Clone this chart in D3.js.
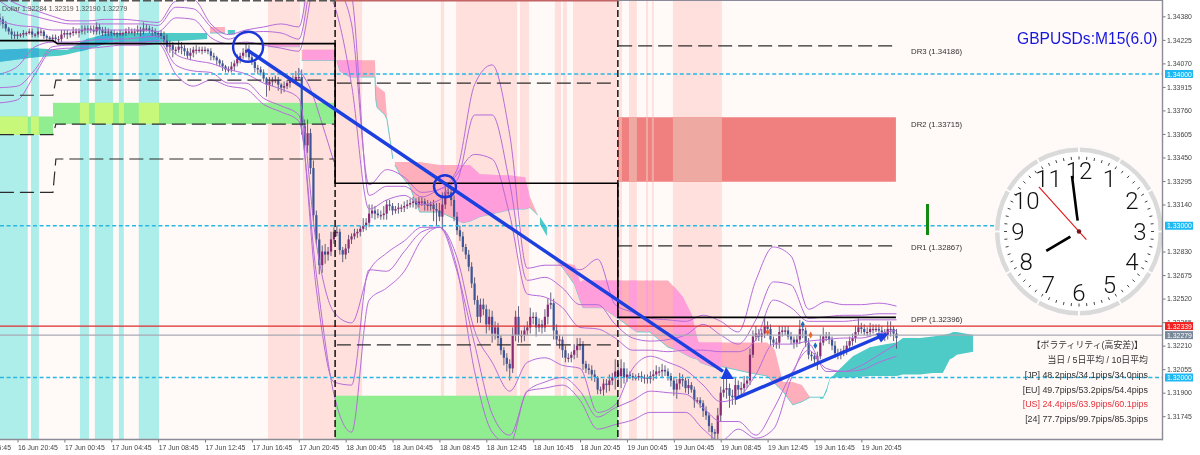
<!DOCTYPE html>
<html><head><meta charset="utf-8">
<script src="https://cdn.jsdelivr.net/npm/d3@7/dist/d3.min.js"></script>
<style>html,body{margin:0;padding:0;background:#fff;overflow:hidden}svg{display:block;filter:blur(0.35px)}text{font-family:"Liberation Sans","Noto Sans CJK JP",sans-serif}</style>
</head><body><svg id="c" width="1200" height="455"></svg>
<script>
// prices are in units of 0.0001 (13400 = 1.34000); bars are 15-minute bar numbers
const closes=[13436,13433,13430,13428,13426,13425,13426,13426,13427,13427,
13428,13426,13426,13428,13428,13425,13424,13423,13424,13423,
13423,13426,13427,13426,13427,13428,13428,13428,13429,13430,
13430,13429,13428,13431,13429,13427,13428,13428,13427,13427,
13426,13427,13427,13428,13428,13428,13428,13429,13428,13430,
13430,13429,13428,13427,13427,13425,13422,13418,13419,13416,
13416,13418,13417,13415,13412,13414,13416,13416,13416,13416,
13416,13415,13412,13411,13409,13407,13405,13403,13403,13405,
13407,13410,13412,13414,13416,13411,13408,13404,13403,13401,
13397,13393,13395,13396,13396,13393,13391,13392,13394,13396,
13396,13398,13398,13366,13353,13361,13338,13307,13291,13274,
13283,13281,13283,13291,13296,13296,13284,13281,13285,13291,
13293,13295,13296,13298,13300,13302,13308,13310,13308,13307,
13307,13308,13314,13313,13310,13311,13312,13312,13313,13314,
13315,13316,13314,13316,13316,13314,13313,13314,13311,13310,
13306,13314,13322,13322,13317,13306,13297,13293,13286,13281,
13273,13262,13251,13240,13248,13245,13235,13240,13229,13233,
13226,13218,13213,13209,13206,13228,13240,13228,13228,13231,
13233,13240,13240,13233,13235,13233,13240,13248,13249,13231,
13225,13225,13218,13213,13213,13215,13218,13221,13222,13209,
13206,13205,13202,13200,13192,13192,13196,13195,13198,13200,
13204,13201,13206,13200,13202,13201,13200,13200,13201,13200,
13200,13199,13201,13202,13204,13204,13205,13204,13201,13198,
13192,13196,13199,13198,13193,13195,13192,13185,13185,13183,
13178,13175,13168,13164,13163,13175,13190,13192,13193,13188,
13187,13195,13192,13193,13196,13198,13215,13227,13229,13227,
13229,13234,13232,13225,13223,13223,13230,13231,13231,13227,
13225,13223,13225,13232,13231,13223,13215,13214,13212,13214,
13223,13227,13227,13225,13221,13216,13215,13217,13218,13221,
13224,13226,13230,13233,13232,13230,13230,13232,13232,13232,
13231,13230,13228,13232,13232,13229,13226];
const wickUp=[3,2,2,1,2,2,2,1,2,1,2,2,1,3,2,1,1,1,2,2,2,3,2,2,1,3,2,2,3,2,2,2,3,3,2,2,3,2,1,2,1,2,1,2,3,2,2,3,2,4,3,2,2,2,1,2,3,4,3,2,2,4,3,2,2,3,2,3,2,2,2,1,2,2,1,1,2,1,2,3,2,3,2,3,4,3,2,2,2,2,2,1,3,2,3,2,1,3,2,2,3,4,6,5,4,9,3,5,3,4,4,5,3,5,3,4,2,2,3,3,2,3,2,2,5,3,6,4,3,3,3,5,3,3,2,2,3,2,3,3,3,3,2,3,3,2,3,2,3,4,5,8,6,6,4,3,3,3,3,2,3,3,4,3,4,4,3,5,4,4,3,2,2,3,3,5,4,7,3,3,4,6,3,3,4,3,5,4,7,3,4,3,2,3,3,2,4,5,4,2,2,3,3,3,1,2,3,3,4,3,8,5,6,4,4,2,2,2,2,3,2,2,3,3,4,3,4,3,2,2,2,3,4,3,2,4,2,2,2,2,2,3,2,2,2,5,4,9,6,3,4,5,3,4,5,3,4,4,5,3,3,6,3,3,2,3,4,3,3,3,3,2,3,6,4,2,3,2,2,3,5,6,3,3,2,3,3,2,3,3,3,3,4,6,3,3,3,4,3,3,3,3,2,5,5,2,3];
const wickDown=[4,3,2,2,3,2,2,2,2,2,1,2,2,2,3,2,2,1,2,2,2,2,2,3,2,2,2,4,2,3,3,2,2,2,3,2,2,3,2,2,2,1,2,2,2,2,3,2,3,2,2,2,3,2,3,2,3,3,4,5,3,2,4,3,2,3,3,3,2,3,2,2,3,2,3,2,3,2,2,2,3,2,3,2,3,2,2,3,3,2,2,8,4,3,2,4,4,3,2,3,2,2,2,6,5,5,4,4,3,6,5,6,4,3,3,3,3,5,3,3,3,2,3,3,2,3,3,3,4,2,3,3,4,3,3,2,3,3,3,2,2,3,3,2,3,4,3,3,8,10,3,9,3,2,4,3,3,3,3,3,3,3,3,4,4,4,6,4,6,4,4,3,5,5,8,3,4,5,5,4,3,4,5,6,3,4,3,5,3,6,4,6,5,3,3,3,3,5,3,4,3,3,4,3,3,3,4,5,4,3,8,7,8,4,3,2,2,2,2,3,4,3,3,3,3,3,4,3,3,4,4,6,4,4,3,4,2,5,2,3,4,3,4,6,6,8,4,3,6,8,5,5,5,4,3,3,3,2,3,3,4,3,4,4,3,4,4,3,3,2,3,4,3,3,5,3,3,3,4,7,2,2,3,3,3,3,3,3,3,3,2,3,3,2,3,2,3,3,3,2,3,3,4,3,5,5,7];

const bandBars=[0,6,12,18,24,30,36,42,48,54,60,66,72,78,84,90,96,102,108,114,120,126,132,138,144,150,156,162,168,174,180,186,192,198,204,210,216,222,228,234,240,246,252,258,264,270,276,282,288,294,300,306];
const upper3=[13452,13446,13442,13438,13435,13435,13436,13436,13435,13434,13448,13449,13433,13426,13429,13431,13433,13431,13489,13462,13433,13327,13337,13332,13322,13324,13337,13393,13406,13360,13272,13274,13274,13271,13278,13248,13243,13239,13238,13237,13241,13237,13230,13264,13286,13280,13245,13250,13248,13248,13249,13247];
const upper2=[13448,13441,13438,13435,13433,13433,13433,13433,13433,13432,13444,13443,13431,13423,13427,13428,13427,13423,13475,13475,13452,13320,13326,13326,13319,13324,13330,13373,13373,13328,13264,13266,13259,13248,13248,13235,13226,13224,13225,13228,13235,13228,13222,13238,13263,13261,13239,13240,13241,13241,13242,13242];
const upper1=[13435,13432,13431,13429,13429,13429,13429,13429,13429,13428,13437,13436,13424,13420,13421,13419,13417,13415,13462,13446,13393,13311,13317,13320,13314,13317,13334,13347,13344,13307,13255,13253,13246,13233,13232,13226,13218,13218,13217,13218,13218,13217,13217,13225,13251,13246,13237,13237,13237,13238,13238,13238];
const lower1=[13400,13405,13418,13421,13421,13422,13423,13423,13424,13425,13413,13409,13407,13403,13400,13394,13390,13384,13288,13243,13236,13270,13282,13290,13299,13299,13279,13231,13210,13191,13210,13213,13208,13206,13177,13182,13206,13214,13210,13205,13195,13184,13187,13202,13222,13222,13224,13225,13226,13226,13229,13231];
const lower2=[13391,13392,13403,13418,13419,13419,13420,13421,13421,13422,13406,13402,13401,13394,13394,13384,13379,13373,13258,13197,13195,13271,13270,13283,13296,13299,13270,13222,13176,13162,13191,13197,13200,13191,13174,13180,13185,13191,13190,13189,13180,13171,13171,13162,13179,13202,13218,13206,13204,13208,13215,13222];
const lower3=[13381,13383,13400,13416,13417,13417,13418,13419,13419,13420,13400,13392,13396,13392,13390,13380,13375,13369,13268,13189,13164,13251,13259,13270,13291,13299,13272,13204,13164,13156,13191,13193,13195,13185,13166,13169,13172,13177,13177,13177,13166,13158,13166,13160,13166,13199,13222,13204,13204,13205,13210,13214];
const extraBandBars=[102,106,110,114];
const extraBand=[13403,13390,13367,13342];

const cyanSessions=[[0,9.5],[10.6,13.3],[27.3,30.4],[32.4,38.6],[40.6,42.3],[47.4,54.3]];
const pinkSessions=[[91.5,102.4],[103.4,123.6],[150.5,151.6],[155.7,176.5],[177.5,180.6],[189.4,191.5],[192.2,193.5],[195.6,210.6],[211.3,212.3],[214.7,217.4],[220.5,221.2],[222.5,223.2],[229.7,246.4]];
const greenZones=[[0,18.1,13372,13360],[18.1,114.4,13381,13367],[114.4,211,13188,13159]];
const redZones=[[210.9,305.8,13371.5,13329]];

const tealBars1=[0,12,20.5,23.2,29.7,37.5,54.6,70.7], tealTop1=[13416,13417,13416,13416,13423,13427,13427,13427], tealBot1=[13408,13411,13412,13413,13416,13421,13421,13423];
const tealBars2=[77.8,80.2], tealTop2=[13429,13429], tealBot2=[13426,13426];
const tealBars3=[184.3,186.7], tealTop3=[13306,13299], tealBot3=[13301,13293];
const tealBars4=[279.9,280.9,282.2,283.3,284.3,285.7,291.1,296.9,302.7,306.1,308.2,314,318.4,321.8,324.2,325.3,326.6,332.1];
const tealTop4=[13187,13187,13193,13200,13201,13204,13214,13220,13222,13223,13226,13226,13227,13228,13229,13230,13230,13228];
const tealBot4=[13186,13186,13191,13199,13200,13200,13200,13201,13201,13201,13202,13202,13203,13203,13212,13213,13215,13217];
const pinkBars1=[71.7,76.8], pinkTop1=[13431,13431], pinkBot1=[13427,13427];
const pinkBars2=[91.5,102.4], pinkTop2=[13420,13420], pinkBot2=[13418,13418];
const pinkBars3=[103,114.7], pinkTop3=[13416,13416], pinkBot3=[13409,13409];
const pinkBars4=[115,116,119.5,128,128.3,128.7,131.4,132.1,134.1];
const pinkTop4=[13409,13409,13409,13409,13393,13392,13388,13372,13346];
const pinkBot4=[13409,13402,13398,13398,13383,13378,13373,13370,13344];
const pinkBars5=[134.8,136.5,139.9,141.6,143.3,150.2,158,160.4,163.8,175.1,179.2,180.9,183.6];
const pinkTop5=[13342,13342,13342,13342,13342,13340,13340,13340,13334,13333,13332,13319,13307];
const pinkBot5=[13340,13334,13326,13317,13309,13309,13302,13303,13306,13311,13311,13312,13307];
const pinkBars6=[189.4,192.2,196.2,196.9,198,199,205.8,211.6,217.4,221.8,228,231.4,233.1,236.2,238.2,238.9,243.3,246.8,256,261.8,263.8,264.5,267.2,270.6,273.7,276.5,280.9];
const pinkTop6=[13279,13276,13274,13270,13263,13264,13264,13264,13264,13264,13264,13257,13253,13241,13224,13223,13223,13223,13223,13223,13220,13218,13197,13197,13195,13187,13187];
const pinkBot6=[13278,13272,13261,13257,13251,13246,13246,13238,13230,13230,13220,13218,13216,13213,13212,13210,13207,13207,13203,13201,13197,13196,13191,13182,13184,13187,13187];

const pivotBars=[0,18.1,19.6,114.4,114.4,210.9,210.9,305.8];
const pivotLine=[13422,13422,13420,13420,13328,13328,13239.6,13239.6];
const dashBars=[0,18.1,19.1,114];
const dashR=[13386,13386,13396,13396], dashM=[13360,13360,13367,13367], dashS=[13322,13322,13344,13344];
const day3Bars=[115,210.4], day3R=13394, day3S=13221.5;
const day4Bars=[211,305.8], dr3=13418.6, dr1=13286.7;
const sessionBreaks=[114.4,210.9];
const roundLevels=[1.34,1.33,1.32];
const bidPrice=1.32339, lastPrice=1.32279;
const priceTicks=[1.3438,1.34225,1.3407,1.33915,1.3376,1.33605,1.3345,1.33295,1.3314,1.3283,1.32675,1.3252,1.32365,1.3221,1.32055,1.319,1.31745];
const timeTickBars=[-10,6,22,38,54,70,86,102,118,134,150,166,182,198,214,230,246,262,278,294];
const timeLabels=["16 Jun 16:45","16 Jun 20:45","17 Jun 00:45","17 Jun 04:45","17 Jun 08:45","17 Jun 12:45","17 Jun 16:45","17 Jun 20:45","18 Jun 00:45","18 Jun 04:45","18 Jun 08:45","18 Jun 12:45","18 Jun 16:45","18 Jun 20:45","19 Jun 00:45","19 Jun 04:45","19 Jun 08:45","19 Jun 12:45","19 Jun 16:45","19 Jun 20:45"];
const arrow1Bars=[84.3,246.8], arrow1Prices=[13416,13204];
const arrowHead1=[[246.1,13199],[250.5,13199],[247.8,13207]];
const arrow2Bars=[250.9,300.4], arrow2Prices=[13186,13227];
const arrowHead2=[[299,13229],[303.4,13229],[300.7,13223]];
const circles=[[84.7,13418,15],[151.9,13326,11]];
const diamondsOrange=[[262,13230],[276.7,13228]];
const diamondsBlue=[[274,13235],[278.3,13221]];
const drLabels=[["DR3 (1.34186)",13413],["DR2 (1.33715)",13365],["DR1 (1.32867)",13284],["DPP (1.32396)",13236.3]];
const volRows=[["【ボラティリティ(高安差)】","#333"],["当日 / 5日平均 / 10日平均","#333"],["[JP] 48.2pips/34.1pips/34.0pips","#333"],["[EU] 49.7pips/53.2pips/54.4pips","#333"],["[US] 24.4pips/63.9pips/60.1pips","#e8323c"],["[24] 77.7pips/99.7pips/85.3pips","#333"]];
const clockHour=7, clockMinute=58.8, clockSecond=53;

const W=1200,H=455,plotR=1162.5,plotB=439.5;
const svg=d3.select("#c");
const x=d3.scaleLinear().domain([0,306]).range([-0.08,896.5]);
const yP=d3.scaleLinear().domain([1.34,1.32]).range([74,377.5]);
const y=p=>yP(p/1e4);
const defs=svg.append("defs");
defs.append("clipPath").attr("id","plot").append("rect").attr("width",plotR).attr("height",plotB);
const rectsClip=(id,list)=>{const c=defs.append("clipPath").attr("id",id);c.selectAll("rect").data(list).join("rect").attr("x",d=>x(d[0])).attr("width",d=>x(d[1])-x(d[0])).attr("y",0).attr("height",plotB);};
rectsClip("cyanClip",cyanSessions);rectsClip("pinkClip",pinkSessions);

svg.append("rect").attr("width",W).attr("height",H).attr("fill","#fff");
const g=svg.append("g").attr("clip-path","url(#plot)");
g.append("rect").attr("width",plotR).attr("height",plotB).attr("fill","#fff9f8");
const sess=(list,col)=>g.append("g").selectAll("rect").data(list).join("rect").attr("x",d=>x(d[0])).attr("width",d=>x(d[1])-x(d[0])).attr("y",0).attr("height",plotB).attr("fill",col);
sess(cyanSessions,"#aeeeea");sess(pinkSessions,"#ffe0dc");

const zone=(list,col,clip)=>{const gg=g.append("g");if(clip)gg.attr("clip-path",`url(#${clip})`);gg.selectAll("rect").data(list).join("rect").attr("x",d=>x(d[0])).attr("width",d=>x(d[1])-x(d[0])).attr("y",d=>y(d[2])).attr("height",d=>y(d[3])-y(d[2])).attr("fill",col);};
zone(greenZones,"#90ee90");zone(greenZones,"#c8f87a","cyanClip");
zone(redZones,"#f08080");zone(redZones,"#eeaaa2","pinkClip");

const cloud=(bars,top,bot,col,clip,edge)=>{
  const a=d3.area().x(i=>x(bars[i])).y0(i=>y(bot[i])).y1(i=>y(top[i]));
  const gg=g.append("g");if(clip)gg.attr("clip-path",`url(#${clip})`);
  gg.append("path").attr("d",a(d3.range(bars.length))).attr("fill",col);
  if(edge){const l=d3.line().x(i=>x(bars[i])).y(i=>y(bot[i]));gg.append("path").attr("d",l(d3.range(bars.length))).attr("fill","none").attr("stroke",edge).attr("stroke-width",1);}
};
const pinkSets=[[pinkBars1,pinkTop1,pinkBot1],[pinkBars2,pinkTop2,pinkBot2],[pinkBars3,pinkTop3,pinkBot3],[pinkBars4,pinkTop4,pinkBot4],[pinkBars5,pinkTop5,pinkBot5],[pinkBars6,pinkTop6,pinkBot6]];
const tealSets=[[tealBars1,tealTop1,tealBot1],[tealBars2,tealTop2,tealBot2],[tealBars3,tealTop3,tealBot3],[tealBars4,tealTop4,tealBot4]];
pinkSets.forEach(s=>cloud(s[0],s[1],s[2],"#ffafbb",null,"#70cccc"));
pinkSets.forEach(s=>cloud(s[0],s[1],s[2],"#ff9edb","pinkClip"));
tealSets.forEach(s=>cloud(s[0],s[1],s[2],"#4ecbc7"));
tealSets.forEach(s=>cloud(s[0],s[1],s[2],"#3bb4d6","cyanClip"));

// candles
const candles=closes.map((c,i)=>({i,c,o:i?closes[i-1]:c+1,hi:Math.max(c,i?closes[i-1]:c+1)+wickUp[i],lo:Math.min(c,i?closes[i-1]:c+1)-wickDown[i]}));
const cg=g.append("g");
cg.selectAll("line").data(candles).join("line").attr("x1",d=>x(d.i)).attr("x2",d=>x(d.i)).attr("y1",d=>y(d.hi)).attr("y2",d=>y(d.lo)).attr("stroke","#50506e").attr("stroke-width",0.9);
cg.selectAll("rect").data(candles).join("rect").attr("x",d=>x(d.i)-1.1).attr("width",2.2).attr("y",d=>y(Math.max(d.o,d.c))).attr("height",d=>Math.max(1.2,Math.abs(y(d.o)-y(d.c)))).attr("fill",d=>d.c>=d.o?"#8a2a74":"#3a5698");

// bands
const bandLine=d3.line().x(d=>x(d[0])).y(d=>y(d[1])).curve(d3.curveMonotoneX);
[upper3,upper2,upper1,lower1,lower2,lower3].forEach(b=>g.append("path").attr("d",bandLine(b.map((v,i)=>[bandBars[i],v]))).attr("fill","none").attr("stroke","#b46cd8").attr("stroke-width",1));
g.append("path").attr("d",bandLine(extraBand.map((v,i)=>[extraBandBars[i],v]))).attr("fill","none").attr("stroke","#b46cd8").attr("stroke-width",1);

// round levels and price lines
g.selectAll(".lvl").data(roundLevels).join("line").attr("x1",0).attr("x2",plotR).attr("y1",d=>yP(d)).attr("y2",d=>yP(d)).attr("stroke","#28b8e2").attr("stroke-width",1.7).attr("stroke-dasharray","4 2.6");
g.append("line").attr("x1",0).attr("x2",plotR).attr("y1",yP(lastPrice)).attr("y2",yP(lastPrice)).attr("stroke","#a8a8b4").attr("stroke-width",1.4);
g.append("line").attr("x1",0).attr("x2",plotR).attr("y1",yP(bidPrice)).attr("y2",yP(bidPrice)).attr("stroke","#dc2c2c").attr("stroke-width",1.3);

// pivots
const pl=d3.line().x((d,i)=>x(d[0])).y(d=>y(d[1]));
const zip=(a,b)=>a.map((v,i)=>[v,b[i]]);
const dashed=(pts)=>g.append("path").attr("d",pl(pts)).attr("fill","none").attr("stroke","#2c2c2c").attr("stroke-width",1.2).attr("stroke-dasharray","14 6");
[dashR,dashM,dashS].forEach(v=>dashed(zip(dashBars,v)));
[day3R,day3S].forEach(v=>dashed(day3Bars.map(b=>[b,v])));
[dr3,dr1].forEach(v=>dashed(day4Bars.map(b=>[b,v])));
g.selectAll(".brk").data(sessionBreaks).join("line").attr("x1",d=>x(d)).attr("x2",d=>x(d)).attr("y1",0).attr("y2",plotB).attr("stroke","#111").attr("stroke-width",1.5).attr("stroke-dasharray","7 3");
g.append("path").attr("d",pl(zip(pivotBars,pivotLine))).attr("fill","none").attr("stroke","#000").attr("stroke-width",1.6);

// top strips
g.append("line").attr("x1",0).attr("x2",x(114.4)).attr("y1",0.8).attr("y2",0.8).attr("stroke","#555").attr("stroke-width",1.6).attr("stroke-dasharray","8 3");
g.append("line").attr("x1",x(114.4)).attr("x2",x(210.9)).attr("y1",0.8).attr("y2",0.8).attr("stroke","#c26464").attr("stroke-width",1.6);
g.append("line").attr("x1",x(210.9)).attr("x2",plotR).attr("y1",0.5).attr("y2",0.5).attr("stroke","#8a8a98").attr("stroke-width",1);

// diamonds
const dia=d3.symbol().type(d3.symbolDiamond).size(14);
const diaDraw=(list,col)=>g.append("g").selectAll("path").data(list).join("path").attr("d",dia).attr("transform",d=>`translate(${x(d[0])},${y(d[1])})`).attr("fill",col);
diaDraw(diamondsOrange,"#f0662a");diaDraw(diamondsBlue,"#1f6fb8");

// arrows
const blue="#1c3fe0";
const arrowLine=(b,p)=>g.append("line").attr("x1",x(b[0])).attr("y1",y(p[0])).attr("x2",x(b[1])).attr("y2",y(p[1])).attr("stroke",blue).attr("stroke-width",3.4);
arrowLine(arrow1Bars,arrow1Prices);arrowLine(arrow2Bars,arrow2Prices);
[arrowHead1,arrowHead2].forEach(h=>g.append("polygon").attr("points",h.map(d=>`${x(d[0])},${y(d[1])}`).join(" ")).attr("fill",blue));
g.selectAll(".ring").data(circles).join("circle").attr("cx",d=>x(d[0])).attr("cy",d=>y(d[1])).attr("r",d=>d[2]).attr("fill","none").attr("stroke","#1a35d8").attr("stroke-width",2.4);

// green marker
g.append("rect").attr("x",926).attr("width",3).attr("y",204).attr("height",31).attr("fill","#128a12");

// texts in plot
g.append("text").attr("x",2).attr("y",10.5).attr("font-size",6.9).attr("fill","#555").text("Dollar  1.32284 1.32319 1.32190 1.32279");
g.append("text").attr("x",1017).attr("y",44).attr("font-size",15.6).attr("fill","#1616dc").text("GBPUSDs:M15(6.0)");
g.selectAll(".dr").data(drLabels).join("text").attr("x",911).attr("y",d=>y(d[1])).attr("font-size",7.8).attr("fill","#333").text(d=>d[0]);
const rowY=[348,363,378,392.5,407,422];
g.selectAll(".vol").data(volRows).join("text").attr("x",(d,i)=>i==0?1143:1148).attr("y",(d,i)=>rowY[i]).attr("text-anchor","end").attr("font-size",8.9).attr("fill",d=>d[1]).text(d=>d[0]);

// clock
const ck=svg.append("g").attr("transform","translate(1079,231.5)");
ck.append("circle").attr("r",84).attr("fill","#fff");
const rim=d3.arc().innerRadius(79.5).outerRadius(84);
ck.selectAll(".rim").data(d3.range(12)).join("path").attr("d",i=>rim({startAngle:(i*30+0.6)*Math.PI/180,endAngle:(i*30+29.4)*Math.PI/180})).attr("fill","#dadada");
const ang=d3.scaleLinear().domain([0,60]).range([0,2*Math.PI]);
const pol=(a,r)=>[r*Math.sin(a),-r*Math.cos(a)];
ck.selectAll(".tick").data(d3.range(60)).join("line").each(function(m){const a=ang(m);const [x1,y1]=pol(a,72);const [x2,y2]=pol(a,75);d3.select(this).attr("x1",x1).attr("y1",y1).attr("x2",x2).attr("y2",y2);}).attr("stroke","#444").attr("stroke-width",1);
ck.selectAll(".num").data(d3.range(1,13)).join("text").attr("text-anchor","middle").attr("font-size",24).attr("font-weight",300).style("font-family","Roboto,'Liberation Sans',sans-serif").attr("fill","#111").each(function(h){const [px,py]=pol(ang(h*5),61);d3.select(this).attr("x",px).attr("y",py+8.4);}).text(d=>d);
const hand=(a,r0,r1,w,col)=>{const [a1,b1]=pol(a,r0),[a2,b2]=pol(a,r1);ck.append("line").attr("x1",a1).attr("y1",b1).attr("x2",a2).attr("y2",b2).attr("stroke",col).attr("stroke-width",w);};
hand(ang(clockMinute),11,56,2.6,"#000");
hand(ang((clockHour+clockMinute/60)*5),10,38,2.8,"#000");
hand(ang(clockSecond),-11,60,1.1,"#e01818");
ck.append("circle").attr("r",2.2).attr("fill","#7a1018");

// axes
const ax=svg.append("g").attr("transform",`translate(${plotR},0)`).call(d3.axisRight(yP).tickValues(priceTicks).tickSize(3).tickPadding(1.5).tickFormat(d3.format(".5f")));
const bx=svg.append("g").attr("transform",`translate(0,${plotB})`).call(d3.axisBottom(x).tickValues(timeTickBars).tickSize(3).tickPadding(3).tickFormat((d,i)=>timeLabels[i]));
[ax,bx].forEach(a=>{a.select(".domain").remove();a.selectAll("line").attr("stroke","#777");a.selectAll("text").attr("font-size",6.9).attr("fill","#444");});
bx.selectAll("text").attr("text-anchor","start").attr("x",0);
svg.append("line").attr("x1",plotR).attr("x2",plotR).attr("y1",0).attr("y2",plotB+0.7).attr("stroke","#8c8c96").attr("stroke-width",1.4);
svg.append("line").attr("x1",0).attr("x2",plotR).attr("y1",plotB).attr("y2",plotB).attr("stroke","#8c8c96").attr("stroke-width",1.4);

// price tags
const tags=[[1.34,"#1eb8f5","1.34000"],[1.33,"#1eb8f5","1.33000"],[1.32,"#1eb8f5","1.32000"],[bidPrice,"#f42020","1.32339"],[lastPrice,"#778899","1.32279"]];
const tg=svg.append("g").selectAll("g").data(tags).join("g").attr("transform",d=>`translate(1165,${yP(d[0])})`);
tg.append("rect").attr("x",0).attr("y",-4).attr("width",28).attr("height",8).attr("fill",d=>d[1]);
tg.append("text").attr("x",2).attr("y",2.6).attr("font-size",6.9).attr("fill","#fff").text(d=>d[2]);
</script></body></html>
